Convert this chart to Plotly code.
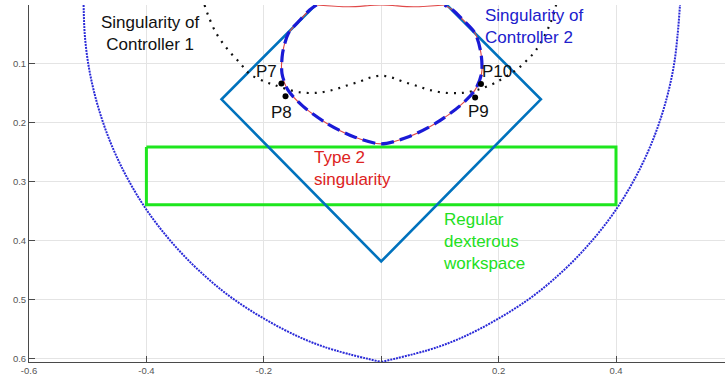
import plotly.graph_objects as go

# ---------------- data ----------------
# Workspace boundary (two arcs meeting at the bottom cusp)
arc_left_x = [-0.507, -0.505, -0.499, -0.4885, -0.4736, -0.454, -0.429, -0.398, -0.359, -0.311, -0.250, -0.167, -0.097, 0.0]
arc_left_y = [0.0, 0.05, 0.10, 0.15, 0.20, 0.25, 0.30, 0.35, 0.40, 0.45, 0.50, 0.55, 0.58, 0.6055]
arc_right_x = [0.0, 0.097, 0.167, 0.250, 0.311, 0.359, 0.398, 0.429, 0.454, 0.4736, 0.4885, 0.499, 0.505, 0.509]
arc_right_y = [0.6055, 0.58, 0.55, 0.50, 0.45, 0.40, 0.35, 0.30, 0.25, 0.20, 0.15, 0.10, 0.05, 0.0]

# Type 2 singularity (closed oval-like curve)
oval_x = [-0.110, -0.122, -0.138, -0.158, -0.168, -0.169, -0.159, -0.133, -0.093, -0.048, 0.0,
          0.048, 0.093, 0.133, 0.160, 0.171, 0.170, 0.160, 0.139, 0.122, 0.108]
oval_y = [0.0, 0.0085, 0.025, 0.048, 0.082, 0.116, 0.144, 0.172, 0.2005, 0.223, 0.2356,
          0.223, 0.2005, 0.172, 0.144, 0.116, 0.082, 0.048, 0.025, 0.0085, 0.0]
top_x = [-0.110, -0.055, 0.0, 0.055, 0.108]
top_y = [0.0, 0.003, 0.0, 0.003, 0.0]

# Singularity of controller 2 (follows the oval)
c2_x = oval_x
c2_y = oval_y

# Singularity of controller 1 (dotted W-shaped curve)
c1_x = [-0.301, -0.295, -0.281, -0.261, -0.241, -0.224, -0.196, -0.181, -0.160, -0.140, -0.110,
        -0.082, -0.060, -0.037, -0.018, 0.0, 0.018, 0.037, 0.060, 0.082, 0.110, 0.139, 0.160,
        0.173, 0.196, 0.230, 0.250, 0.264, 0.287, 0.298]
c1_y = [0.0, 0.017, 0.048, 0.076, 0.098, 0.117, 0.131, 0.136, 0.143, 0.148, 0.149,
        0.144, 0.137, 0.130, 0.123, 0.120, 0.123, 0.130, 0.137, 0.144, 0.149, 0.149, 0.145,
        0.141, 0.131, 0.110, 0.092, 0.076, 0.034, 0.0]

# Square (diamond) workspace
sq_x = [-0.112, -0.272, 0.0, 0.272, 0.112]
sq_y = [0.0, 0.160, 0.435, 0.160, 0.0]

# Regular dexterous workspace rectangle
rect_x = [-0.40, 0.40, 0.40, -0.40, -0.40]
rect_y = [0.241, 0.241, 0.339, 0.339, 0.241]

# Points
pt_names = ["P7", "P8", "P9", "P10"]
pt_x = [-0.170, -0.163, 0.160, 0.170]
pt_y = [0.133, 0.155, 0.157, 0.134]
lbl_x = [-0.195, -0.170, 0.165, 0.197]
lbl_y = [0.113, 0.183, 0.181, 0.113]

x_ticks = [-0.6, -0.4, -0.2, 0.0, 0.2, 0.4]
x_tick_text = ["-0.6", "-0.4", "-0.2", "", "0.2", "0.4"]
y_ticks = [0, 0.1, 0.2, 0.3, 0.4, 0.5, 0.6]
y_tick_text = ["0", "0.1", "0.2", "0.3", "0.4", "0.5", "0.6"]

# ---------------- figure ----------------
FONT = "Arial, Liberation Sans, sans-serif"
fig = go.Figure()

for ax, ay in [(arc_left_x, arc_left_y), (arc_right_x, arc_right_y)]:
    fig.add_trace(go.Scatter(x=ax, y=ay, mode="lines", line_shape="spline",
                             line=dict(color="#2b2bd8", width=2, dash="2px,1px"),
                             hoverinfo="skip"))

fig.add_trace(go.Scatter(x=rect_x, y=rect_y, mode="lines",
                         line=dict(color="#1ee61e", width=3), hoverinfo="skip"))
fig.add_trace(go.Scatter(x=sq_x, y=sq_y, mode="lines",
                         line=dict(color="#0072BD", width=2.6), hoverinfo="skip"))
fig.add_trace(go.Scatter(x=c1_x, y=c1_y, mode="lines", line_shape="spline",
                         line=dict(color="#111111", width=2.2, dash="2px,6px"),
                         hoverinfo="skip"))
fig.add_trace(go.Scatter(x=oval_x, y=oval_y, mode="lines", line_shape="spline",
                         line=dict(color="#e04848", width=1.1, smoothing=0.8), hoverinfo="skip"))
fig.add_trace(go.Scatter(x=top_x, y=top_y, mode="lines", line_shape="spline",
                         line=dict(color="#e04848", width=1.1), hoverinfo="skip"))
fig.add_trace(go.Scatter(x=c2_x, y=c2_y, mode="lines", line_shape="spline",
                         line=dict(color="#1a1ad6", width=3.2, dash="13px,6px", smoothing=0.8),
                         hoverinfo="skip"))
fig.add_trace(go.Scatter(x=pt_x, y=pt_y, mode="markers",
                         marker=dict(color="black", size=6), hoverinfo="skip"))

for n, lx, ly in zip(pt_names, lbl_x, lbl_y):
    fig.add_annotation(x=lx, y=ly, text=n, showarrow=False, xanchor="center", yanchor="middle",
                       font=dict(family=FONT, size=17, color="#111111"))

fig.add_annotation(x=-0.393, y=0.048, text="Singularity of<br>Controller 1", showarrow=False,
                   xanchor="center", yanchor="middle", align="center",
                   font=dict(family=FONT, size=17, color="#111111"))
fig.add_annotation(x=0.1734, y=0.0373, text="Singularity of<br>Controller 2", showarrow=False,
                   xanchor="left", yanchor="middle", align="left",
                   font=dict(family=FONT, size=17, color="#2020cc"))
fig.add_annotation(x=-0.1172, y=0.2768, text="Type 2<br>singularity", showarrow=False,
                   xanchor="left", yanchor="middle", align="left",
                   font=dict(family=FONT, size=17, color="#dd2222"))
fig.add_annotation(x=0.1026, y=0.4014, text="Regular<br>dexterous<br>workspace", showarrow=False,
                   xanchor="left", yanchor="middle", align="left",
                   font=dict(family=FONT, size=17, color="#22e022"))

axis_common = dict(showline=True, linecolor="#4a4a4a", linewidth=1, ticks="inside", ticklen=6,
                   tickcolor="#4a4a4a", showgrid=True, gridcolor="#e4e4e4", gridwidth=1,
                   zeroline=False, automargin=False, layer="above traces",
                   tickfont=dict(family=FONT, size=9.5, color="#555555"))

fig.update_layout(
    width=725, height=383,
    margin=dict(l=29, r=0, t=5, b=21),
    plot_bgcolor="white", paper_bgcolor="white",
    showlegend=False,
    xaxis=dict(range=[-0.6, 0.5857], tickvals=x_ticks, ticktext=x_tick_text, **axis_common),
    yaxis=dict(range=[0.6056, 0.0], tickvals=y_ticks, ticktext=y_tick_text, **axis_common),
)

fig.write_html("out.html", config={"displayModeBar": False},
               post_script="document.body.style.margin='0';document.body.style.overflow='hidden';")
